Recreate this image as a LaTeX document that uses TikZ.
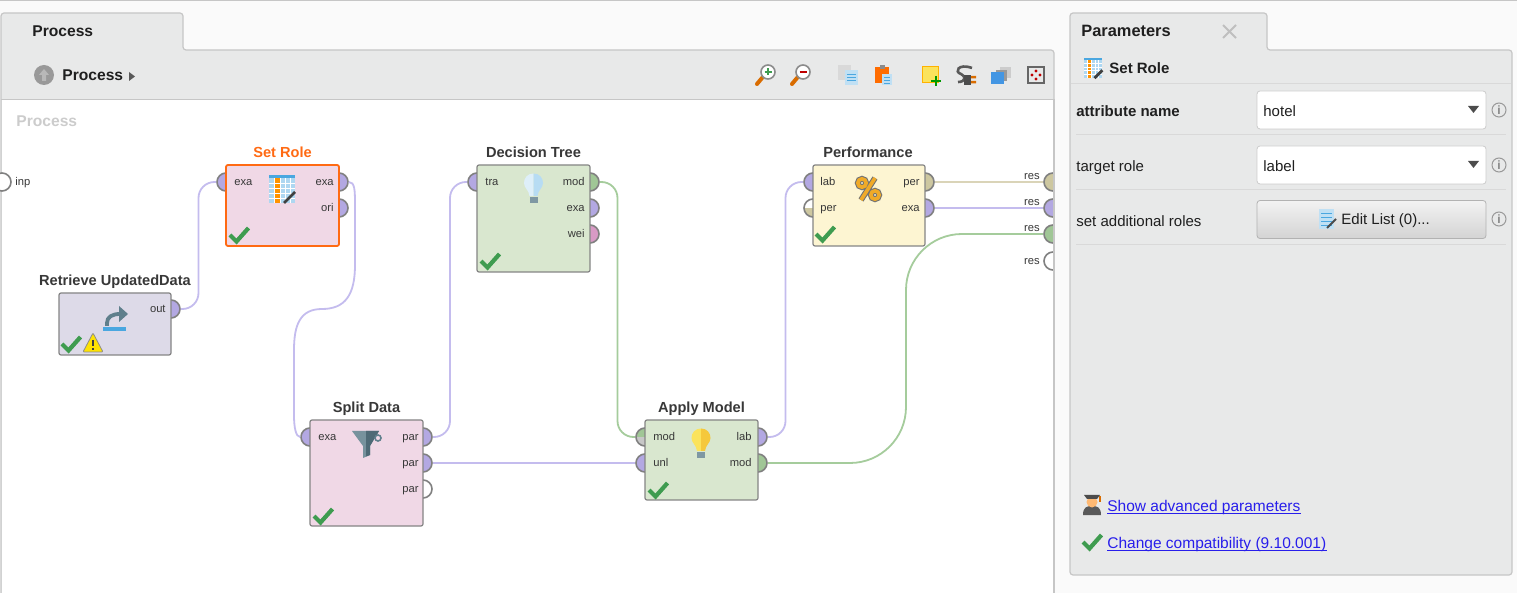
\documentclass[tikz,border=0pt]{standalone}
\usepackage{fontspec}
\setmainfont{Liberation Sans}
\usepackage{xcolor}
\usetikzlibrary{positioning,calc,shapes.geometric}
\definecolor{pagebg}{RGB}{250,250,250}
\definecolor{panelgray}{RGB}{232,233,233}
\definecolor{edgegray}{RGB}{198,198,198}
\definecolor{pur}{RGB}{179,168,226}
\definecolor{oli}{RGB}{205,199,160}
\definecolor{grn}{RGB}{160,198,150}
\definecolor{pnk}{RGB}{216,154,197}
\definecolor{wirepur}{RGB}{196,188,238}
\definecolor{wireoli}{RGB}{218,212,184}
\definecolor{wiregrn}{RGB}{165,204,156}
\definecolor{okgreen}{RGB}{63,156,80}
\definecolor{steel}{RGB}{95,127,140}
\definecolor{steeldark}{RGB}{78,106,118}
\definecolor{linkblue}{RGB}{40,30,235}
\definecolor{boxpink}{RGB}{240,216,230}
\definecolor{boxlila}{RGB}{221,218,232}
\definecolor{boxgreen}{RGB}{217,231,207}
\definecolor{boxcream}{RGB}{253,245,210}
\definecolor{roleorange}{RGB}{255,106,19}
\definecolor{iconblue}{RGB}{74,167,224}
\definecolor{bulbpale}{RGB}{251,227,92}
\definecolor{bulbdeep}{RGB}{245,200,60}
\definecolor{pctorange}{RGB}{240,170,40}

\begin{document}
\begin{tikzpicture}[
	x=0.5pt, y=-0.5pt,
	opbox/.style={
		draw=black!48, line width=.6pt, rounded corners=1pt,
		minimum width=56.5pt, inner sep=0pt
	},
	opport/.style={
		circle, draw=black!50, line width=.8pt, minimum size=9pt, inner sep=0pt
	},
	optitle/.style={
		font=\bfseries\fontsize{7.3}{9}\selectfont, text=black!78, inner sep=0pt,
		text height=5.6pt, text depth=1.5pt, above=1.6pt of #1
	},
	lblleft/.style={
		anchor=west, inner sep=0pt, text=black!78, font=\fontsize{5.6}{7}\selectfont,
		text height=4.2pt, text depth=1pt, yshift=-.5pt
	},
	lblright/.style={lblleft, anchor=east},
	wire/.style={line width=.9pt},
	uitext/.style={
		anchor=west, inner sep=0pt, font=\fontsize{7.5}{9}\selectfont, text=black!88,
		text height=5.6pt, text depth=1.6pt, yshift=-1pt
	},
	uibold/.style={uitext, font=\bfseries\fontsize{7.5}{9}\selectfont},
	linktext/.style={uitext, text=linkblue, font=\fontsize{7.75}{9}\selectfont},
	dropbox/.style={
		draw=black!20, fill=white, rounded corners=1.5pt, inner sep=0pt,
		minimum width=114.5pt, minimum height=19pt
	},
	infoicon/.style={
		circle, draw=black!40, line width=.5pt, text=black!48, inner sep=0pt,
		minimum size=7pt, font=\rmfamily\bfseries\fontsize{6}{6}\selectfont
	},
	okcheck/.pic={
		\draw[okgreen, line width=2.1pt] (-9,0) -- (-2.5,6.5) -- (9.5,-7);
	},
	pics/bulb/.style 2 args={code={
		\fill[#1] (0,-9.5) .. controls (-6,-9.5) and (-9.5,-5) .. (-9.5,0)
			.. controls (-9.5,5) and (-4.5,7) .. (-4,13) -- (0,13) -- cycle;
		\fill[#2] (0,-9.5) .. controls (6,-9.5) and (9.5,-5) .. (9.5,0)
			.. controls (9.5,5) and (4.5,7) .. (4,13) -- (0,13) -- cycle;
		\fill[steel!80] (-4,14) rectangle (4,20);
	}},
	tableicon/.pic={
		\fill[iconblue!45] (-13,-14) rectangle (13,14);
		\fill[orange!85!yellow] (-8,-14) rectangle (-2,14);
		\fill[iconblue] (-13,-14) rectangle (13,-11);
		\foreach \gy in {-6,-1,4,9} \draw[white, line width=.4pt] (-13,\gy) -- (13,\gy);
		\foreach \gx in {-8,-2,3,8} \draw[white, line width=.4pt] (\gx,-11) -- (\gx,14);
		\draw[black!75, line width=1.4pt] (2,14) -- (13,3);
	}
	]
	\useasboundingbox (0,0) rectangle (1517,593);
	\fill[pagebg] (0,0) rectangle (1517,593);
	\draw[edgegray, line width=.6pt] (0,.5) -- (1517,.5);

	% left panel with its tab, toolbar and canvas
	\draw[edgegray, fill=panelgray, line width=.6pt, rounded corners=1.5pt]
		(1,593) -- (1,13) -- (183,13) -- (183,50) -- (1054,50) -- (1054,593);
	\fill[white] (1.5,100) rectangle (1053.5,593);
	\draw[edgegray, line width=.6pt] (1,99.5) -- (1054,99.5);
	\node[uibold, font=\bfseries\fontsize{7.8}{9}\selectfont] (processtab) at (32,31) {Process};
	\node[circle, fill=black!40, minimum size=10pt, inner sep=0pt] (upbutton) at (44,75) {};
	\fill[black!28] (44,69) -- (49,75) -- (46,75) -- (46,81) -- (42,81) -- (42,75) -- (39,75) -- cycle;
	\node[uibold, font=\bfseries\fontsize{7.8}{9}\selectfont] (crumb) at (62,75) {Process};
	\fill[black!65] (129,72) -- (135,76.5) -- (129,81) -- cycle;
	\node[uibold, font=\bfseries\fontsize{7.8}{9}\selectfont, text=black!20] (canvastitle) at (16,121) {Process};

	% toolbar icons
	\foreach \zx/\zc in {768/okgreen,803/red!75!black}{
		\draw[orange!85!black, line width=2pt, line cap=round] (\zx-6,78) -- (\zx-11,84);
		\draw[black!45, fill=white, line width=.8pt] (\zx,72) circle[radius=7];
		\draw[\zc, line width=.8pt] (\zx-3.5,72) -- (\zx+3.5,72);
	}
	\draw[okgreen, line width=.8pt] (768,68.5) -- (768,75.5);
	\fill[black!15] (838,65) rectangle (851,80);
	\fill[iconblue!35] (845,70) rectangle (858,85);
	\foreach \ly in {74,77,80} \draw[iconblue, line width=.4pt] (847,\ly) -- (856,\ly);
	\fill[orange!85!red] (875,67) rectangle (889,83);
	\fill[black!45] (880,65) rectangle (885,69);
	\fill[iconblue!35] (882,74) rectangle (892,85);
	\foreach \ly in {77,80,83} \draw[iconblue, line width=.4pt] (884,\ly) -- (890,\ly);
	\draw[orange!60!yellow, fill=bulbpale, line width=.5pt] (922.5,66.5) rectangle (938,83);
	\draw[green!60!black, line width=1.2pt] (931,81) -- (941,81) (936,76) -- (936,86);
	\draw[black!65, line width=1.3pt] (972,68) .. controls (958,63) and (954,72) .. (961,74)
		.. controls (966,76) and (966,82) .. (958,82);
	\fill[black!70] (964,75) rectangle (971,85);
	\fill[orange!85!black] (971,76) rectangle (976,78.5) (971,81) rectangle (976,83.5);
	\fill[black!20] (1000,67) rectangle (1011,78);
	\fill[black!40] (996,70) rectangle (1007,81);
	\fill[iconblue!90!blue] (991,72) rectangle (1004,84);
	\draw[black!60, line width=.6pt] (1028,67) rectangle (1044,83);
	\foreach \rx/\ry in {1036/71,1036/79,1032/75,1040/75} \fill[red!75!black] (\rx,\ry) circle[radius=1.7];

	% right panel
	\draw[edgegray, fill=panelgray, line width=.6pt, rounded corners=1.5pt]
		(1070,575) -- (1070,13) -- (1267,13) -- (1267,50) -- (1512,50) -- (1512,575) -- cycle;
	\node[uibold, font=\bfseries\fontsize{8.2}{9}\selectfont] (paramtab) at (1081,31) {Parameters};
	\draw[black!25, line width=1pt] (1223,25) -- (1236,38) (1236,25) -- (1223,38);
	\pic[scale=.72] at (1093,68) {tableicon};
	\node[uibold] (rolehead) at (1109,68) {Set Role};
	\draw[black!15, line width=.5pt] (1071,84) -- (1511,84);
	\foreach \sy in {134.5,189.5,244.5} \draw[black!15, line width=.5pt] (1076,\sy) -- (1506,\sy);
	\node[uibold] (attrname) at (1076,110.5) {attribute name};
	\node[uitext] (targetrole) at (1076,165.5) {target role};
	\node[uitext] (addroles) at (1076,220.5) {set additional roles};
	\node[dropbox] (attrbox) at (1371.5,110) {};
	\node[dropbox] (rolebox) at (1371.5,165) {};
	\node[dropbox, draw=black!30, top color=black!5, bottom color=black!17] (editbutton) at (1371.5,219.5) {};
	\node[uitext] (attrval) at (1263,110.5) {hotel};
	\node[uitext] (roleval) at (1263,165.5) {label};
	\node[uitext] (editlabel) at (1341,219) {Edit List (0)...};
	\fill[iconblue!35] (1319,209) rectangle (1334,229);
	\foreach \ly in {213,217,221,225} \draw[iconblue, line width=.4pt] (1321,\ly) -- (1332,\ly);
	\draw[black!70, line width=1pt] (1327,228) -- (1336,219);
	\foreach \ay in {106,161} \fill[black!70] (1468,\ay) -- (1479,\ay) -- (1473.5,\ay+7) -- cycle;
	\foreach \iy in {110,165,219} \node[infoicon] (info\iy) at (1499,\iy) {i};
	% advanced parameters icon
	\fill[black!65] (1083,515) .. controls (1083,507) and (1087,506) .. (1092,506)
		.. controls (1097,506) and (1101,507) .. (1101,515) -- cycle;
	\fill[orange!55!white] (1092,502) circle[radius=5.5];
	\fill[black!70] (1084,495) -- (1100,495) -- (1097,499) -- (1087,499) -- cycle;
	\fill[orange!85!black] (1099,496) rectangle (1100.5,502);
	\node[linktext] (advlink) at (1107,505) {Show advanced parameters};
	\draw[linkblue, line width=.5pt] ($(advlink.base west)+(0,2.5)$) -- ($(advlink.base east)+(0,2.5)$);
	\pic at (1092,542) {okcheck};
	\node[linktext] (compat) at (1107,542) {Change compatibility (9.10.001)};
	\draw[linkblue, line width=.5pt] ($(compat.base west)+(0,2.5)$) -- ($(compat.base east)+(0,2.5)$);

	% ports first, the boxes then cover their inner half
	\foreach \pname/\px/\py/\pcol in {
		inp/2/182/white,
		setrole-in/226/182/pur, setrole-exa/339/182/pur, setrole-ori/339/208/pur,
		retrieve-out/171/309/pur,
		split-in/310/437/pur, split-p1/423/437/pur, split-p2/423/463/pur, split-p3/423/489/white,
		tree-tra/477/182/pur, tree-mod/590/182/grn, tree-exa/590/208/pur, tree-wei/590/234/pnk,
		apply-unl/645/463/pur, apply-lab/758/437/pur, apply-mod/758/463/grn,
		perf-lab/813/182/pur, perf-per/925/182/oli, perf-exa/925/208/pur,
		res1/1053/182/oli, res2/1053/208/pur, res3/1053/234/grn, res4/1053/261/white}
		\node[opport, fill=\pcol] (\pname) at (\px,\py) {};
	\node[opport, fill=white, path picture={
		\fill[oli] (path picture bounding box.west) rectangle (path picture bounding box.south east);
	}] (perf-in2) at (813,208) {};
	\node[opport, fill=grn, path picture={
		\fill[black!22] (path picture bounding box.west) rectangle (path picture bounding box.south east);
	}] (apply-mod-in) at (645,437) {};
	\fill[pagebg] (1054.5,100) rectangle (1069,593);
	\draw[edgegray, line width=.6pt] (1054,99) -- (1054,593);

	% operators
	\node[opbox, draw=roleorange, line width=.9pt, fill=boxpink, minimum height=40.5pt] (setrole) at (282.5,205.5) {};
	\node[opbox, fill=boxlila, minimum width=56pt, minimum height=31pt] (retrieve) at (115,324) {};
	\node[opbox, fill=boxpink, minimum height=53pt] (split) at (366.5,473) {};
	\node[opbox, fill=boxgreen, minimum height=53.5pt] (tree) at (533.5,218.5) {};
	\node[opbox, fill=boxgreen, minimum height=40pt] (apply) at (701.5,460) {};
	\node[opbox, fill=boxcream, minimum width=56pt, minimum height=40.5pt] (perf) at (869,205.5) {};
	\node[optitle=setrole, text=roleorange] (setrole-title) {Set Role};
	\node[optitle=retrieve] (retrieve-title) {Retrieve UpdatedData};
	\node[optitle=split] (split-title) {Split Data};
	\node[optitle=tree] (tree-title) {Decision Tree};
	\node[optitle=apply] (apply-title) {Apply Model};
	\node[optitle=perf, xshift=-.5pt] (perf-title) {Performance};

	% port labels
	\foreach \lname/\lx/\ly/\ltxt in {
		inp/15/181/inp, setrole-in/234/181/exa, split-in/318/436/exa, tree-tra/485/181/tra,
		apply-mod-in/653/436/mod, apply-unl/653/462/unl, perf-lab/820/181/lab, perf-in2/820/207/per}
		\node[lblleft] (\lname-lbl) at (\lx,\ly) {\ltxt};
	\foreach \lname/\lx/\ly/\ltxt in {
		setrole-exa/334/181/exa, setrole-ori/334/207/ori, retrieve-out/166/308/out,
		split-p1/419/436/par, split-p2/419/462/par, split-p3/419/488/par,
		tree-mod/585/181/mod, tree-exa/585/207/exa, tree-wei/585/233/wei,
		apply-lab/752/436/lab, apply-mod/752/462/mod, perf-per/920/181/per, perf-exa/920/207/exa,
		res1/1040/175/res, res2/1040/201/res, res3/1040/227/res, res4/1040/260/res}
		\node[lblright] (\lname-lbl) at (\lx,\ly) {\ltxt};

	% connectors
	\draw[wire, wirepur, rounded corners=8pt] (retrieve-out.east) -| ($(retrieve-out.east)!.5!(setrole-in.west)$) |- (setrole-in.west);
	\draw[wire, wirepur, rounded corners=8pt] (split-p1.east) -| ($(split-p1.east)!.5!(tree-tra.west)$) |- (tree-tra.west);
	\draw[wire, wiregrn, rounded corners=8pt] (tree-mod.east) -| ($(tree-mod.east)!.5!(apply-mod-in.west)$) |- (apply-mod-in.west);
	\draw[wire, wirepur, rounded corners=8pt] (apply-lab.east) -| ($(apply-lab.east)!.5!(perf-lab.west)$) |- (perf-lab.west);
	\draw[wire, wiregrn, rounded corners=28pt] (apply-mod.east) -| (906,350) |- (res3.west);
	\draw[wire, wirepur] (split-p2.east) -- (apply-unl.west);
	\draw[wire, wireoli] (perf-per.east) -- (res1.west);
	\draw[wire, wirepur] (perf-exa.east) -- (res2.west);
	\draw[wire, wirepur] (setrole-exa.east) .. controls +(6,0) and (355,190) .. (355,205) -- (355,265)
		.. controls (355,295) and (345,309) .. (322,309)
		.. controls (300,309) and (294,325) .. (294,350) -- (294,415)
		.. controls (294,428) and (296,437) .. (split-in.west);

	% operator icons
	\pic at (282,189) {tableicon};
	\pic at (533.5,183) {bulb={iconblue!18}{iconblue!40}};
	\pic at (701,438) {bulb={bulbpale}{bulbdeep}};
	\fill[steel!85] (352,431) -- (379,431) -- (370,446) -- (370,455) -- (363,458) -- (363,446) -- cycle;
	\fill[steeldark] (366,431) -- (379,431) -- (370,446) -- (370,455) -- (366,456.5) -- cycle;
	\draw[steel, line width=.8pt] (378,438) circle[radius=3];
	\draw[black!55, line width=2.9pt] (875,178) -- (861,200) (862,183) circle[radius=4.2] (875,195) circle[radius=4.2];
	\draw[pctorange, line width=1.8pt] (875,178) -- (861,200) (862,183) circle[radius=4.2] (875,195) circle[radius=4.2];
	\fill[iconblue] (103,327) rectangle (126,331);
	\draw[steel, line width=1.9pt] (107,326) -- (107,323) .. controls (107,317) and (112,314) .. (120,314);
	\fill[steel] (119,306) -- (128,314) -- (119,322) -- cycle;
	\fill[yellow!85!orange, draw=black!45, line width=.4pt, rounded corners=.5pt] (83,352) -- (93,333) -- (103,352) -- cycle;
	\draw[black!75, line width=.8pt] (93,340) -- (93,346) (93,348) -- (93,350);
	\foreach \cx/\cy in {239/235,71/344,323/516,490/261,658/490,825/234} \pic at (\cx,\cy) {okcheck};
\end{tikzpicture}
\end{document}
